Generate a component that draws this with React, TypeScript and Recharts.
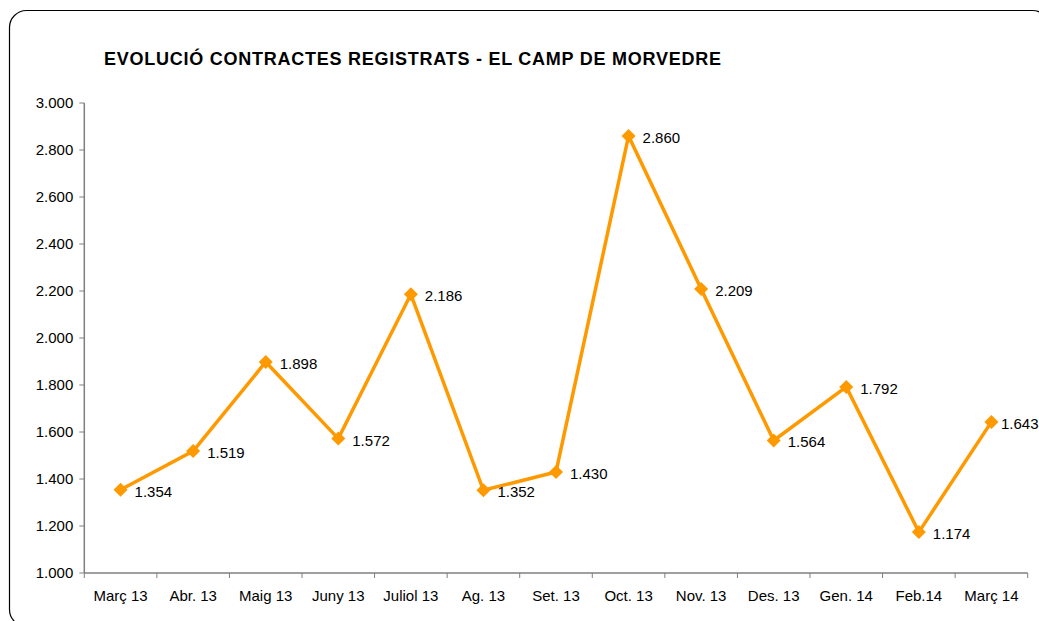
import React from "react";
import { LineChart, Line, XAxis, YAxis } from "recharts";

const months = ["Març 13", "Abr. 13", "Maig 13", "Juny 13", "Juliol 13", "Ag. 13", "Set. 13", "Oct. 13", "Nov. 13", "Des. 13", "Gen. 14", "Feb.14", "Març 14"];
const contracts = [1354, 1519, 1898, 1572, 2186, 1352, 1430, 2860, 2209, 1564, 1792, 1174, 1643];
const yTicks = [1000, 1200, 1400, 1600, 1800, 2000, 2200, 2400, 2600, 2800, 3000];
const title = "EVOLUCIÓ CONTRACTES REGISTRATS - EL CAMP DE MORVEDRE";

const data = months.map((m, i) => ({ month: m, value: contracts[i] }));

const W = 1039;
const H = 621;
const FONT = "'Liberation Sans', Arial, sans-serif";
const ORANGE = "#FF9900";
const AXIS = "#7f7f7f";

const fmt = (n: number) => n.toLocaleString("de-DE");

const Diamond = (props: any) => {
  const { cx, cy } = props;
  if (cx == null || cy == null) return null;
  const r = 7;
  return <polygon points={`${cx},${cy - r} ${cx + r},${cy} ${cx},${cy + r} ${cx - r},${cy}`} fill={ORANGE} stroke="none" />;
};

const ValueLabel = (props: any) => {
  const { x, y, value } = props;
  if (x == null || y == null) return null;
  const lx = Math.min(x + 14, W - 38);
  return (
    <text x={lx} y={y + 1.5} dominantBaseline="central" fontSize={15} fontFamily={FONT} fill="#000">
      {fmt(value)}
    </text>
  );
};

const XTick = (props: any) => {
  const { x, y, payload, index, visibleTicksCount } = props;
  const half = payload && payload.offset ? payload.offset : 0;
  const axisY = y - 5 - 12;
  const count = visibleTicksCount ?? months.length;
  return (
    <g>
      <line x1={x - half} y1={axisY} x2={x - half} y2={axisY + 5} stroke={AXIS} strokeWidth={1} />
      {index === count - 1 && (
        <line x1={x + half} y1={axisY} x2={x + half} y2={axisY + 5} stroke={AXIS} strokeWidth={1} />
      )}
      <text x={x} y={y} dy="0.71em" textAnchor="middle" fontSize={15} fontFamily={FONT} fill="#000">
        {payload.value}
      </text>
    </g>
  );
};

export default function App() {
  return (
    <div style={{ position: "absolute", left: 0, top: 0, width: W, height: H, overflow: "hidden", background: "#fff" }}>
      <LineChart width={W} height={H} data={data} margin={{ top: 103, right: 11.3, left: 0, bottom: 0 }}>
        <XAxis
          dataKey="month"
          scale="band"
          height={48}
          interval={0}
          tickSize={5}
          tickMargin={12}
          tickLine={false}
          axisLine={{ stroke: AXIS, strokeWidth: 1.5 }}
          tick={<XTick />}
        />
        <YAxis
          width={84.3}
          domain={[1000, 3000]}
          ticks={yTicks}
          interval={0}
          tickSize={5}
          tickMargin={6}
          axisLine={{ stroke: AXIS, strokeWidth: 1.5 }}
          tickLine={{ stroke: AXIS }}
          tick={{ fontSize: 15, fontFamily: FONT, fill: "#000" }}
          tickFormatter={fmt}
        />
        <Line
          type="linear"
          dataKey="value"
          stroke={ORANGE}
          strokeWidth={3.5}
          dot={<Diamond />}
          activeDot={false}
          label={<ValueLabel />}
          isAnimationActive={false}
        />
      </LineChart>
      <svg width={W} height={H} style={{ position: "absolute", left: 0, top: 0, pointerEvents: "none" }}>
        <rect x={9.5} y={10.5} width={1040} height={616} rx={17} ry={17} fill="none" stroke="#000" strokeWidth={1.2} />
        <text x={104} y={65} fontSize={18} fontWeight="bold" fontFamily={FONT} fill="#000" letterSpacing={0.75}>
          {title}
        </text>
      </svg>
    </div>
  );
}
